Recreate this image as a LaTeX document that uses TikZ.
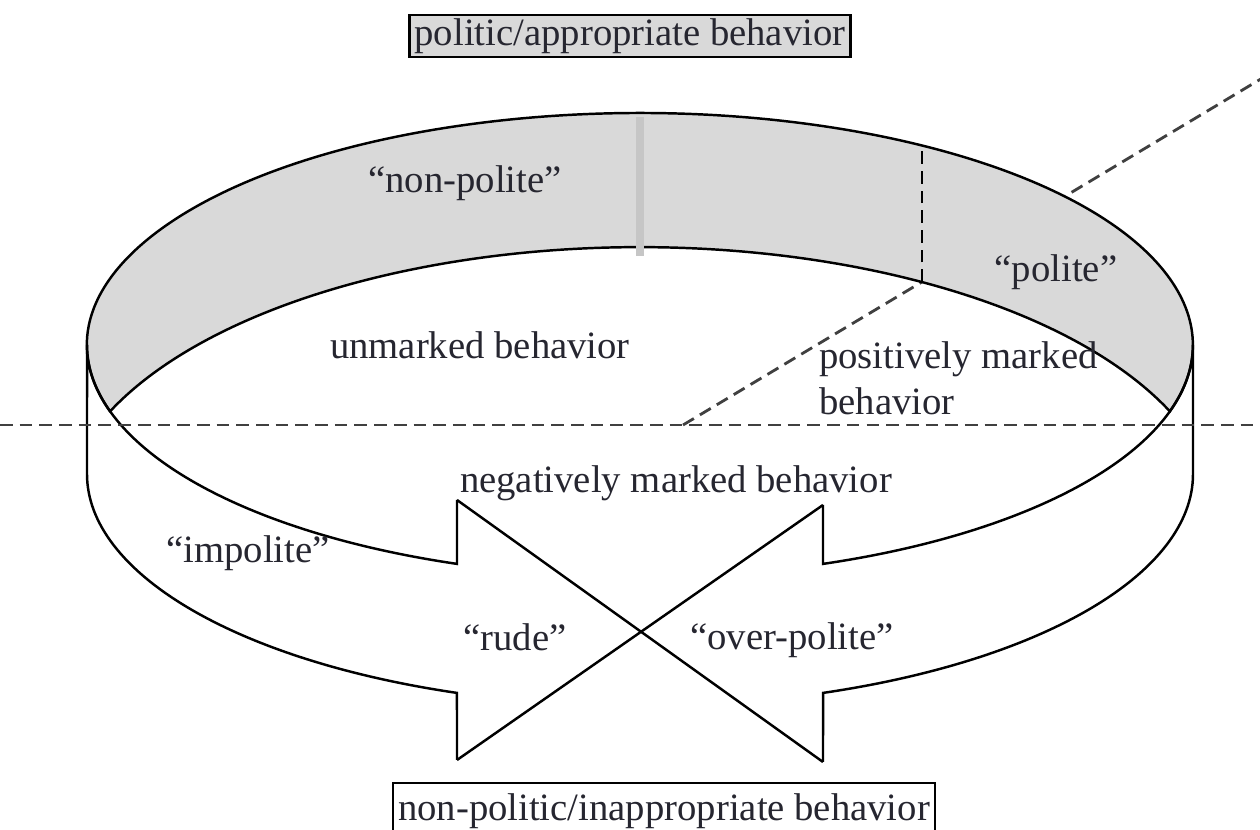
\documentclass[tikz,border=0pt]{standalone}
\usepackage{fontspec}
\setmainfont{Liberation Serif}
\definecolor{bandgray}{HTML}{D9D9D9}
\definecolor{stripgray}{HTML}{C6C6C6}
\definecolor{inkgray}{HTML}{262630}
\begin{document}
\begin{tikzpicture}[x=0.01cm,y=0.01cm,line width=0.7pt,
  lbl/.style={font=\fontsize{11}{13}\selectfont,text=inkgray,inner sep=0pt},
  boxlbl/.style={lbl,draw=black,inner xsep=1.5pt,inner ysep=0pt},
  dashline/.style={dash pattern=on 3.6pt off 2pt,line width=0.8pt,draw=black!75}]
  \useasboundingbox (0,0) rectangle (1260,830);

  \coordinate (h0) at (0,405);
  \coordinate (h1) at (1260,405);
  \coordinate (d0) at (683,405);
  \coordinate (d1) at (1262,751.7);

  \coordinate (jl) at (110,418.7);
  \coordinate (jr) at (1170,418.7);
  \coordinate (l0) at (87,485);
  \coordinate (r0) at (1193,485);
  \coordinate (wl) at (87,356);
  \coordinate (wr) at (1193,356);
  \coordinate (nlt) at (457,266.1);
  \coordinate (nrt) at (823,266.1);
  \coordinate (nlb) at (457,137.1);
  \coordinate (nrb) at (823,137.1);
  \coordinate (blt) at (457,330);
  \coordinate (blb) at (457,70);
  \coordinate (brt) at (823,325);
  \coordinate (brb) at (823,68);

  \draw[dashline] (d0) -- (d1);

  \filldraw[fill=bandgray] (jl) arc[start angle=196.6,end angle=-16.6,x radius=553,y radius=232]
    arc[start angle=24,end angle=156,x radius=580,y radius=276.6] -- cycle;
  \draw[stripgray,line width=2.3pt] (640,713) -- (640,574);
  \draw[dashline,draw=black] (922,548) -- (922,684);

  \draw (blt) -- (nlt) arc[start angle=250.67,end angle=180,x radius=553,y radius=232]
    -- (wl) arc[start angle=180,end angle=250.67,x radius=553,y radius=232] -- (blb);
  \draw (brt) -- (nrt) arc[start angle=289.33,end angle=360,x radius=553,y radius=232]
    -- (wr) arc[start angle=0,end angle=-70.67,x radius=553,y radius=232] -- (brb);
  \draw (blt) -- (brb);
  \draw (brt) -- (blb);

  \draw[dashline] (h0) -- (h1);

  \node[boxlbl,fill=bandgray,minimum height=0.42cm] (politic) at (630,794) {politic/appropriate behavior};
  \node[boxlbl,fill=white,minimum height=0.56cm] (nonpolitic) at (664,19) {non-politic/inappropriate behavior};

  \node[lbl] (nonpolite) at (465,647) {``non-polite''};
  \node[lbl] (polite) at (1056,558) {``polite''};
  \node[lbl] (unmarked) at (480,485) {unmarked behavior};
  \node[lbl,anchor=west,align=left] (positive) at (818,452) {positively marked\\behavior};
  \node[lbl] (negative) at (676,347) {negatively marked behavior};
  \node[lbl] (impolite) at (248,277) {``impolite''};
  \node[lbl] (rude) at (515,193) {``rude''};
  \node[lbl] (overpolite) at (792,190) {``over-polite''};
\end{tikzpicture}
\end{document}
